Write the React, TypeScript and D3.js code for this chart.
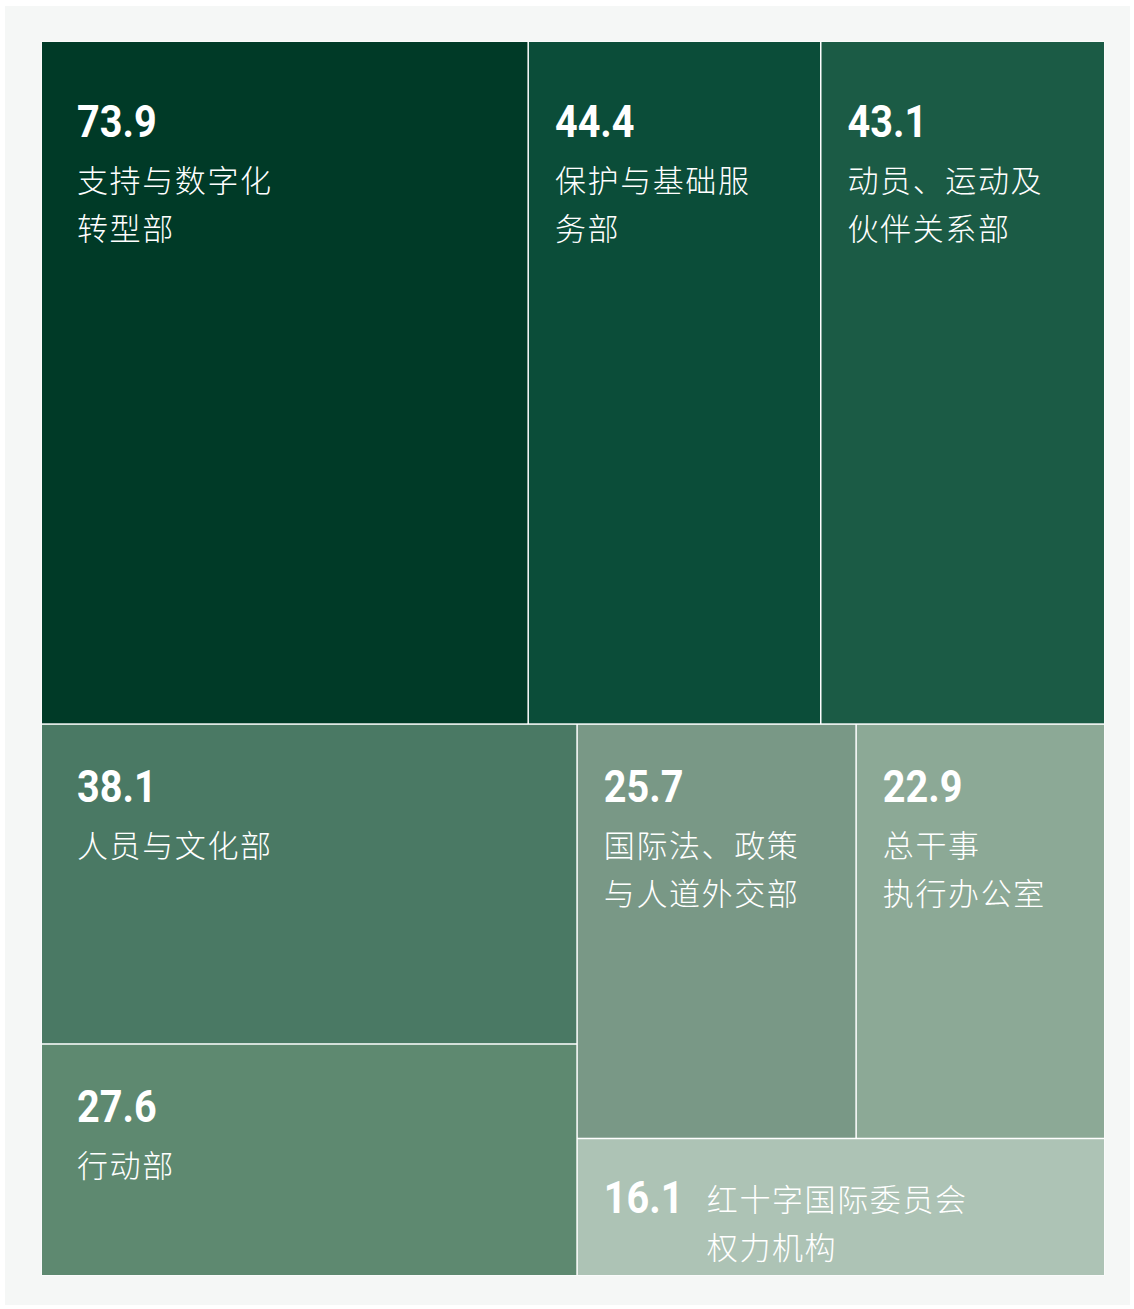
import React from "react";
import * as d3 from "d3";

const departments = [
  "支持与数字化|转型部",
  "保护与基础服|务部",
  "动员、运动及|伙伴关系部",
  "人员与文化部",
  "行动部",
  "国际法、政策|与人道外交部",
  "总干事|执行办公室",
  "红十字国际委员会|权力机构",
];
const budgets = [73.9, 44.4, 43.1, 38.1, 27.6, 25.7, 22.9, 16.1];
const colors = ["#003a27", "#0b4d39", "#1b5b45", "#4a7964", "#5e8970", "#799886", "#8ca996", "#adc3b5"];
// grouping of the layout (index into arrays)
const topRow = [0, 1, 2];
const leftColumn = [3, 4];
const rightPairRow = [5, 6];
const rightBottom = [7];

type N = { name: string; dir?: string; idx?: number; value?: number; children?: N[] };

const leaf = (i: number): N => ({ name: departments[i], idx: i, value: budgets[i] });

const tree: N = {
  name: "root",
  dir: "slice",
  children: [
    { name: "top", dir: "dice", children: topRow.map(leaf) },
    {
      name: "bottom",
      dir: "dice",
      children: [
        { name: "left", dir: "slice", children: leftColumn.map(leaf) },
        {
          name: "right",
          dir: "slice",
          children: [
            { name: "pair", dir: "dice", children: rightPairRow.map(leaf) },
            ...rightBottom.map(leaf),
          ],
        },
      ],
    },
  ],
};

const W = 1134;
const H = 1309;
const X0 = 42, Y0 = 42, X1 = 1104, Y1 = 1275;

export default function App() {
  const root = d3
    .hierarchy<N>(tree)
    .sum((d) => (d.children ? 0 : d.value || 0));
  const layout = d3
    .treemap<N>()
    .size([X1 - X0, Y1 - Y0])
    .paddingInner(1.5)
    .tile((node: any, x0: number, y0: number, x1: number, y1: number) => {
      const dir = node.data.dir;
      if (dir === "slice") d3.treemapSlice(node, x0, y0, x1, y1);
      else d3.treemapDice(node, x0, y0, x1, y1);
    });
  layout(root);
  const leaves = root.leaves();

  return (
    <svg
      width={W}
      height={H}
      style={{ position: "absolute", left: 0, top: 0, display: "block" }}
    >
      <rect x={0} y={0} width={W} height={H} fill="#ffffff" />
      <rect x={5} y={6} width={1125} height={1299} fill="#f5f7f6" />
      <rect x={X0 - 0.5} y={Y0 - 0.5} width={X1 - X0 + 1} height={Y1 - Y0 + 1} fill="#ffffff" />
      <g transform={`translate(${X0},${Y0})`}>
        {leaves.map((l: any) => {
          const i = l.data.idx as number;
          const lines = departments[i].split("|");
          const isTop = l.y0 < 1;
          const padL = l.x0 < 1 ? 35 : 26;
          const inline = i === 7;
          const baseY = l.y0 + (isTop ? 95 : inline ? 74 : 77);
          const numX = l.x0 + padL;
          const labX = inline ? numX + 103 : numX;
          const labY = inline ? baseY - 2 : baseY + 55;
          return (
            <g key={i}>
              <rect
                x={l.x0}
                y={l.y0}
                width={l.x1 - l.x0}
                height={l.y1 - l.y0}
                fill={colors[i]}
              />
              <text
                transform={`translate(${numX},${baseY}) scale(0.88,1)`}
                fill="#ffffff"
                fontFamily="Roboto, 'Liberation Sans', sans-serif"
                fontWeight={700}
                fontSize={45}
              >
                {budgets[i].toFixed(1)}
              </text>
              {lines.map((s, k) => (
                <text
                  key={k}
                  x={labX}
                  y={labY + k * 48}
                  fill="#ffffff"
                  fontFamily="'Noto Sans CJK SC', sans-serif"
                  fontWeight={300}
                  fontSize={31}
                  letterSpacing={1.6}
                >
                  {s}
                </text>
              ))}
            </g>
          );
        })}
      </g>
    </svg>
  );
}
